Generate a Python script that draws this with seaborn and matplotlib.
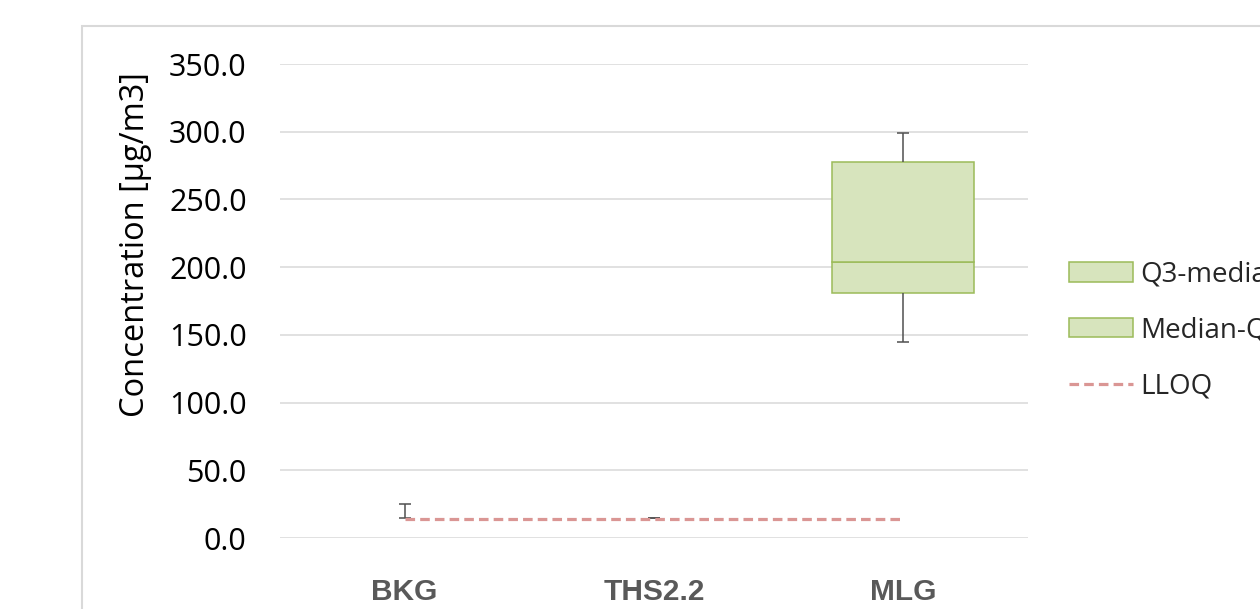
import numpy as np
import pandas as pd
import matplotlib
matplotlib.use("Agg")
import matplotlib.pyplot as plt
import seaborn as sns
from matplotlib.patches import Rectangle, Patch
from matplotlib.lines import Line2D

# box statistics per exposure group (ug/m3)
groups = ["BKG", "THS2.2", "MLG"]
q_min = [14.4, 14.6, 145.0]
q1 = [14.6, 14.6, 181.0]
median = [14.6, 14.6, 204.0]
q3 = [14.6, 14.6, 277.7]
q_max = [25.3, 14.6, 299.0]
lloq = [14.0, 14.0, 14.0]

yticks = [0, 50, 100, 150, 200, 250, 300, 350]

sns.set_theme(style="white")
plt.rcParams["font.family"] = ["Open Sans", "DejaVu Sans"]

box_fill = "#D7E4BD"
box_edge = "#9BBB59"
whisk_col = "#505050"
lloq_col = "#DA9694"

df = pd.DataFrame(
    {
        "group": groups,
        "q1": q1,
        "lower": np.array(median) - np.array(q1),
        "upper": np.array(q3) - np.array(median),
        "median": median,
    }
)

fig = plt.figure(figsize=(12.6, 6.09), dpi=100)
ax = fig.add_axes([280 / 1260, 1 - 538 / 609, 748 / 1260, 474 / 609])

bar_kw = dict(color=box_fill, edgecolor=box_edge, linewidth=1.1, width=0.57,
              errorbar=None, order=groups, ax=ax, saturation=1)
sns.barplot(data=df, x="group", y="lower", bottom=df["q1"], **bar_kw)
sns.barplot(data=df, x="group", y="upper", bottom=df["median"], **bar_kw)

# hide zero-height segments (Excel does not draw them)
for cont in ax.containers:
    for rect in cont:
        if rect.get_height() <= 0.01:
            rect.set_visible(False)

pos = np.arange(len(groups))
cap = 0.024
ax.vlines(pos, q3, q_max, color=whisk_col, lw=1.1, zorder=3)
ax.vlines(pos, q_min, q1, color=whisk_col, lw=1.1, zorder=3)
ax.hlines(q_max, pos - cap, pos + cap, color=whisk_col, lw=1.1, zorder=3)
ax.hlines(q_min, pos - cap, pos + cap, color=whisk_col, lw=1.1, zorder=3)

sns.lineplot(x=pos, y=lloq, ax=ax, color=lloq_col, lw=2.3,
             linestyle=(0, (3, 1.6)), zorder=4)

ax.set_xlim(-0.5, 2.5)
ax.set_ylim(0, 350)
ax.set_yticks(yticks)
ax.set_yticklabels([f"{v:.1f}" for v in yticks])
ax.set_axisbelow(True)
ax.yaxis.grid(True, color="#D9D9D9", lw=1.1)
ax.xaxis.grid(False)
for s in ax.spines.values():
    s.set_visible(False)
ax.tick_params(axis="y", length=0, pad=24, labelsize=22, labelcolor="black")
ax.tick_params(axis="x", length=0, pad=29)
ax.set_xlabel("")
ax.set_ylabel("Concentration [\u00b5g/m3]", fontsize=23.5, color="black")
ax.yaxis.set_label_coords(-0.171, 0.62)
for lab in ax.get_xticklabels():
    lab.set_fontfamily(["Liberation Sans", "DejaVu Sans"])
    lab.set_fontweight("bold")
    lab.set_fontsize(21.5)
    lab.set_color("#595959")

handles = [
    Patch(facecolor=box_fill, edgecolor=box_edge, linewidth=1.1),
    Patch(facecolor=box_fill, edgecolor=box_edge, linewidth=1.1),
    Line2D([0], [0], color=lloq_col, lw=2.3, linestyle=(0, (3, 1.6))),
]
# legend sits partly outside the canvas, as in the original export
fig.legend(handles, ["Q3-median", "Median-Q1", "LLOQ"], loc="center left",
           bbox_to_anchor=(1069 / 1260, 1 - 330.5 / 609), frameon=False,
           fontsize=20, handlelength=2.3, handleheight=0.68, handletextpad=0.27,
           labelspacing=1.0, borderpad=0, borderaxespad=0)

# chart-area border, running off the right and bottom edges
fig.patches.append(Rectangle((82 / 1260, -0.1), 1.0, 1 - 26 / 609 + 0.1,
                             transform=fig.transFigure, fill=False,
                             edgecolor="#D9D9D9", lw=1.5, zorder=0))

fig.savefig("out.png", dpi=100, facecolor="white")
